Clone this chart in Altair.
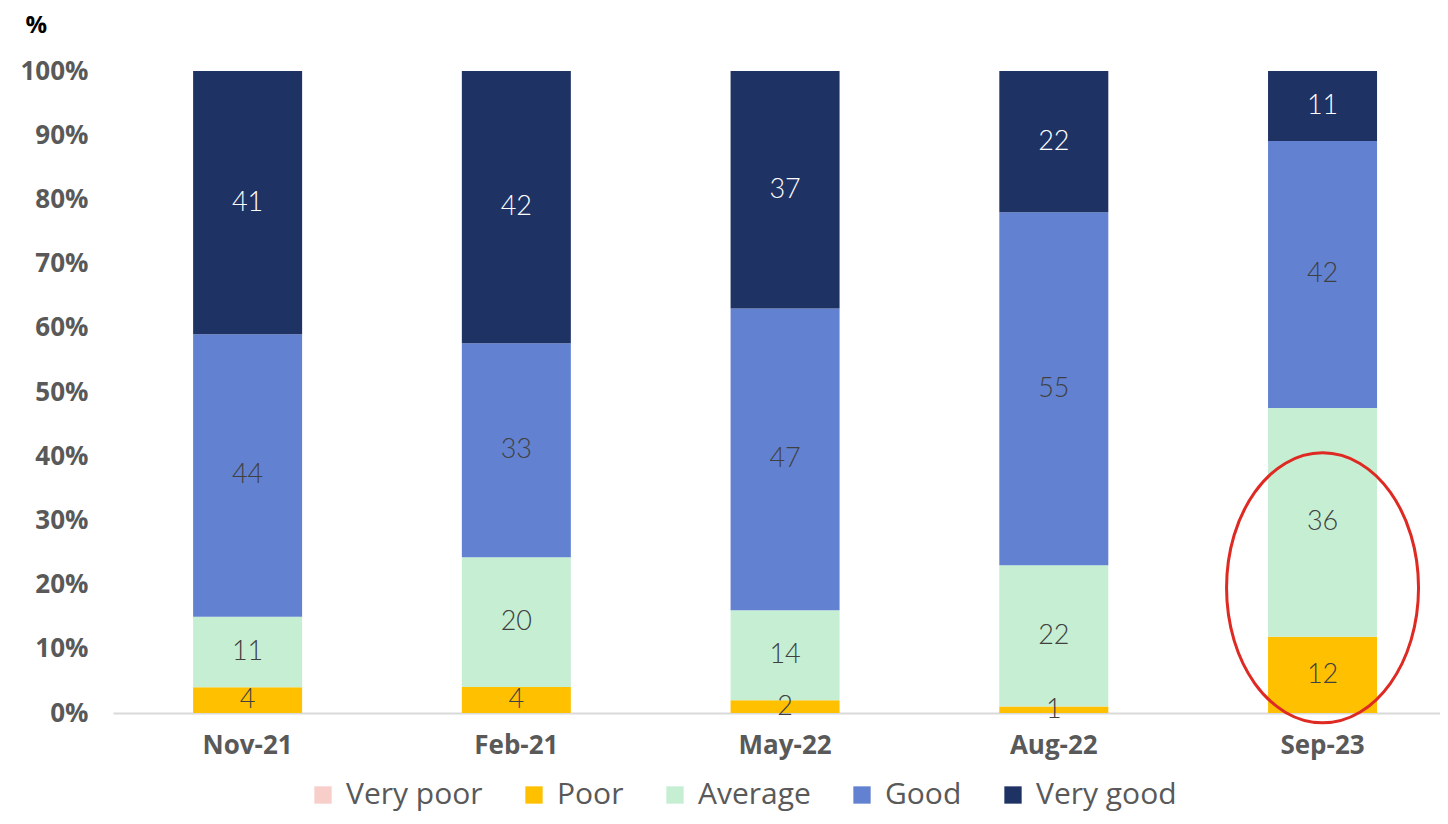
import altair as alt
import pandas as pd

periods = ["Nov-21", "Feb-21", "May-22", "Aug-22", "Sep-23"]
series = ["Very poor", "Poor", "Average", "Good", "Very good"]
colors = ["#F8CECB", "#FFC000", "#C5EED3", "#6282D1", "#1F3264"]

very_poor = [0, 0, 0, 0, 0]
poor = [4, 4, 2, 1, 12]
average = [11, 20, 14, 22, 36]
good = [44, 33, 47, 55, 42]
very_good = [41, 42, 37, 22, 11]

highlight_period = ["Sep-23"]
highlight_center = [0.195]

values = [very_poor, poor, average, good, very_good]
rows = []
for si, (s, vals) in enumerate(zip(series, values)):
    for p, v in zip(periods, vals):
        rows.append({"period": p, "series": s, "rank": si, "value": v})
df = pd.DataFrame(rows)

hl = pd.DataFrame({"period": highlight_period, "center": highlight_center})

x_scale = alt.Scale(domain=periods, paddingInner=0.594, paddingOuter=0.266, align=0.56)
y_scale = alt.Scale(domain=[0, 1])

base = alt.Chart(df).transform_stack(
    stack="value", groupby=["period"], as_=["v0", "v1"],
    sort=[alt.SortField("rank", order="ascending")], offset="normalize"
).transform_calculate(mid="(datum.v0 + datum.v1) / 2")

x_enc = alt.X("period:N", scale=x_scale, sort=periods, title=None,
              axis=alt.Axis(labelFont="Open Sans", labelFontWeight="bold", labelFontSize=26,
                            labelColor="#595959", labelPadding=19, ticks=False,
                            domainColor="#D9D9D9", domainWidth=2, labelAngle=0))

bars = base.mark_bar(size=109).encode(
    x=x_enc,
    y=alt.Y("v0:Q", scale=y_scale,
            axis=alt.Axis(format=".0%", values=[i / 10 for i in range(11)], grid=False, domain=False,
                          ticks=False, labelFont="Open Sans", labelFontWeight="bold", labelFontSize=26,
                          labelColor="#595959", labelPadding=25, title="%", titleAngle=0,
                          titleFont="Open Sans", titleFontWeight="bold", titleFontSize=24,
                          titleColor="#000000", titleAlign="left", titleX=-88, titleY=-58,
                          titleBaseline="top")),
    y2="v1:Q",
    color=alt.Color("series:N", scale=alt.Scale(domain=series, range=colors),
                    legend=alt.Legend(title=None, orient="none", legendX=195, legendY=709,
                                      direction="horizontal", columns=5, symbolType="square",
                                      symbolSize=300, symbolStrokeWidth=0, labelFont="Open Sans",
                                      labelFontSize=30, labelColor="#595959", labelOffset=8,
                                      columnPadding=36, symbolOpacity=1)),
)

labels = base.transform_filter("datum.value > 0").mark_text(
    font="Lato", fontSize=27, fontWeight=300, baseline="middle", align="center"
).encode(
    x=alt.X("period:N", scale=x_scale, sort=periods),
    y=alt.Y("mid:Q", scale=y_scale),
    text=alt.Text("value:Q"),
    color=alt.condition("datum.series == 'Very good'", alt.value("#FFFFFF"), alt.value("#404040")),
)

ellipse = alt.Chart(hl).mark_point(
    shape="M 0 -1 A 0.711 1 0 1 1 0 1 A 0.711 1 0 1 1 0 -1 Z",
    size=72900, filled=False, stroke="#DE2A22", strokeWidth=3, opacity=1
).encode(
    x=alt.X("period:N", scale=x_scale, sort=periods),
    y=alt.Y("center:Q", scale=y_scale),
)

chart = alt.layer(bars, labels, ellipse).properties(
    width=1327, height=642,
    autosize=alt.AutoSizeParams(type="none"),
    padding={"left": 105, "top": 63, "right": 0, "bottom": 103},
).configure_view(stroke=None)

chart.save("out.html", embed_options={"renderer": "svg", "actions": False})
